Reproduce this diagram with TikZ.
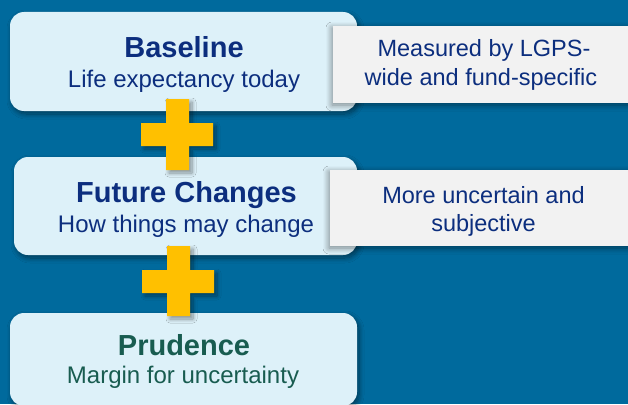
\documentclass[tikz,border=0pt]{standalone}
\usepackage{fontspec}
\setmainfont{Liberation Sans}
\usetikzlibrary{shadows.blur}
\definecolor{bgblue}{RGB}{0,106,157}
\definecolor{boxblue}{RGB}{221,241,249}
\definecolor{greybox}{RGB}{242,242,242}
\definecolor{gold}{RGB}{255,192,0}
\definecolor{navy}{RGB}{12,46,126}
\definecolor{dkgreen}{RGB}{24,92,80}
\tikzset{
  bluebox/.style={fill=boxblue, rounded corners=14pt, inner sep=0pt,
    blur shadow={shadow xshift=2pt, shadow yshift=-3pt, shadow blur radius=5pt, shadow blur steps=10, shadow opacity=45}},
  greyrect/.style={fill=greybox, inner sep=0pt,
    blur shadow={shadow xshift=-1pt, shadow yshift=-2pt, shadow blur radius=6pt, shadow blur steps=10, shadow opacity=45}},
  plusshape/.style={fill=gold,
    blur shadow={shadow xshift=3pt, shadow yshift=-3pt, shadow blur radius=4pt, shadow blur steps=8, shadow opacity=40}},
  titletext/.style={anchor=base, inner sep=0pt, font=\bfseries\fontsize{29}{32}\selectfont, text=navy},
  subtext/.style={anchor=base, inner sep=0pt, font=\fontsize{24}{28}\selectfont, text=navy},
  greytext/.style={anchor=base, inner sep=0pt, font=\fontsize{23.5}{28}\selectfont, text=navy},
}
\begin{document}
\begin{tikzpicture}[x=1pt,y=-1pt]
\fill[bgblue] (0,0) rectangle (628,404);
\useasboundingbox (0,0) rectangle (628,404);
\clip (0,0) rectangle (628,404);
% box 1
\node[bluebox, minimum width=347pt, minimum height=99pt] (b1) at (183.5,61.5) {};
\node[greyrect, minimum width=300pt, minimum height=77pt] (g1) at (483,64.5) {};
\node[titletext] (t1) at (184,57) {Baseline};
\node[subtext] (s1) at (184,87) {Life expectancy today};
\node[greytext] (g1a) at (484,56.7) {Measured by LGPS-};
\node[greytext] (g1b) at (481,85) {wide and fund-specific};
% box 2
\node[bluebox, minimum width=343pt, minimum height=98pt] (b2) at (185.5,206) {};
\node[greyrect, minimum width=300pt, minimum height=76pt] (g2) at (480,208) {};
\node[titletext] (t2) at (186.5,202) {Future Changes};
\node[subtext] (s2) at (186,232.5) {How things may change};
\node[greytext] (g2a) at (483.5,203) {More uncertain and};
\node[greytext] (g2b) at (483.5,231) {subjective};
% box 3
\node[bluebox, minimum width=347pt, minimum height=93pt] (b3) at (183.5,359.5) {};
\node[titletext, text=dkgreen] (t3) at (184,355) {Prudence};
\node[subtext, text=dkgreen] (s3) at (183,383) {Margin for uncertainty};
% plus signs
\path[plusshape] (166,99) -- (189,99) -- (189,123) -- (213,123) -- (213,146) -- (189,146) -- (189,170) -- (166,170) -- (166,146) -- (141,146) -- (141,123) -- (166,123) -- cycle;
\path[plusshape] (167,246) -- (190,246) -- (190,270) -- (214,270) -- (214,293) -- (190,293) -- (190,316) -- (167,316) -- (167,293) -- (142,293) -- (142,270) -- (167,270) -- cycle;
\end{tikzpicture}
\end{document}
